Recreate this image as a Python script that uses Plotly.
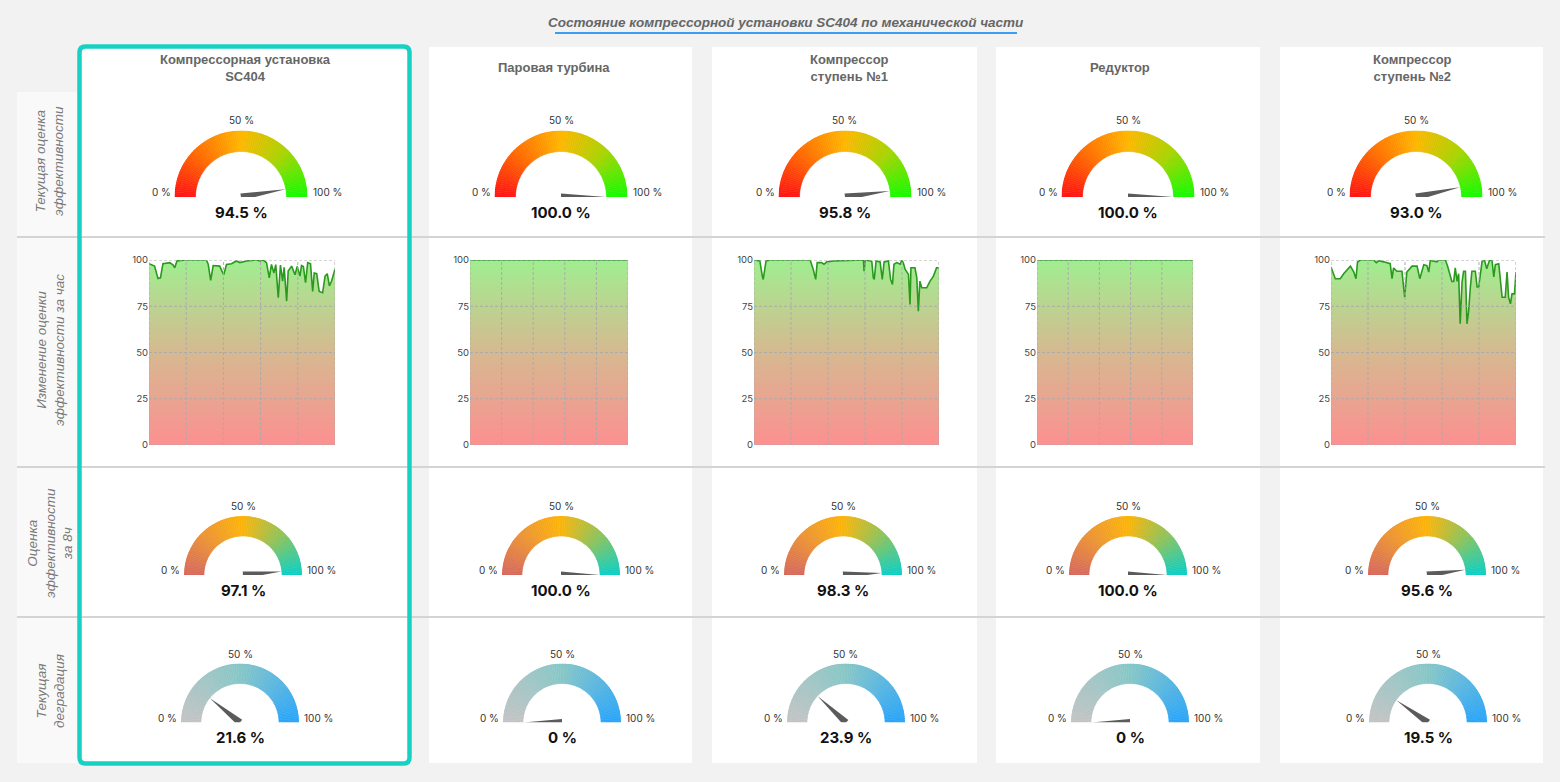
import plotly.graph_objects as go

W, H = 1560, 782

# ---------------- data ----------------
title_text = "Состояние компрессорной установки SC404 по механической части"
units = ["Компрессорная установка<br>SC404", "Паровая турбина",
         "Компрессор<br>ступень №1", "Редуктор", "Компрессор<br>ступень №2"]
row_labels = ["Текущая оценка<br>эффективности",
              "Изменение оценки<br>эффективности за час",
              "Оценка<br>эффективности<br>за 8ч",
              "Текущая<br>деградация"]

current_eff = [94.5, 100.0, 95.8, 100.0, 93.0]
eff_8h = [97.1, 100.0, 98.3, 100.0, 95.6]
degradation = [21.6, 0.0, 23.9, 0.0, 19.5]
gauge_tick_labels = ["0 %", "50 %", "100 %"]

y_ticks = [0, 25, 50, 75, 100]
x_grid = [0, 12, 24, 36, 48, 60]

# hourly efficiency (minutes, %)
t_unit = [0.0, 1.8, 2.9, 3.7, 4.5, 6.7, 7.8, 8.3, 9.0, 11.8, 18.5, 19.1, 19.9, 20.7, 22.8, 24.1,
          25.0, 26.6, 28.2, 29.3, 31.5, 34.7, 35.8, 36.8, 37.9, 38.8, 39.5, 40.3, 40.9, 41.7,
          42.4, 43.1, 43.6, 44.4, 44.9, 46.0, 47.1, 47.8, 48.7, 49.2, 49.8, 50.5, 51.2, 52.1,
          52.8, 53.3, 54.1, 54.9, 56.0, 56.8, 57.5, 58.2, 58.9, 60.0]
v_unit = [98, 96.7, 90, 90.4, 98, 98.6, 97.3, 95.8, 99.5, 100, 100, 97.7, 89, 97, 96.7, 92,
          97.6, 98, 99.5, 98.6, 99.5, 100, 99.5, 100, 98.6, 90.4, 97.6, 93, 97.5, 79.6,
          97.3, 88.6, 96, 77.8, 94, 96.7, 92, 96.5, 91.3, 97, 96.5, 87.7, 98.6, 98,
          83, 93, 92.6, 83, 82.3, 91.3, 92.6, 86, 88.6, 95]

t_turbine = [0, 60]
v_turbine = [100, 100]

t_comp1 = [0, 1.9, 2.7, 3.0, 3.9, 5.2, 18.2, 19.2, 20.0, 20.5, 21.9, 22.7, 23.6, 25.7, 35.5,
           35.7, 36.1, 38.2, 38.7, 39.0, 39.6, 40.9, 41.6, 42.2, 43.6, 44.3, 44.9, 45.4, 46.3,
           47.4, 47.9, 48.4, 49.0, 50.1, 50.6, 50.9, 52.2, 52.8, 53.3, 53.8, 54.4, 56.0, 57.1,
           58.2, 59.2, 60]
v_comp1 = [100, 99.5, 91.3, 89.5, 99.5, 100, 100, 95, 89.5, 98.6, 98.6, 97.7, 99, 99.5, 100,
           94, 100, 99.3, 90.4, 89.5, 99.5, 99, 89.5, 99, 99.5, 89.5, 86.8, 97.7, 98.6,
           97.7, 99.8, 98.6, 95, 92.2, 76, 95.8, 95.8, 90.4, 72.3, 88.6, 85, 85, 88.6,
           91.3, 95.8, 95.8]

t_gear = [0, 60]
v_gear = [100, 100]

t_comp2 = [0, 1.4, 3.0, 4.1, 6.3, 7.4, 8.1, 8.6, 9.5, 13.8, 14.7, 15.5, 17.1, 18.2, 19.2, 19.8,
           20.3, 21.4, 23.0, 23.9, 24.6, 26.3, 27.9, 28.8, 29.5, 30.1, 31.1, 31.7, 32.2, 34.4,
           34.9, 37.1, 37.8, 39.2, 39.8, 40.3, 40.9, 41.4, 41.9, 42.5, 43.0, 43.6, 44.1, 44.6,
           45.2, 45.7, 46.8, 47.4, 47.9, 48.4, 49.0, 49.8, 50.5, 51.4, 52.2, 52.8, 53.3, 54.4,
           54.9, 55.5, 56.5, 57.1, 57.6, 58.2, 58.7, 59.5, 60]
v_comp2 = [96.2, 89.9, 89.9, 92.6, 96.7, 93.5, 89.9, 98.9, 100, 100, 98.6, 99.6, 99, 98.6, 98,
           89.9, 95.7, 93.9, 93.9, 79.9, 93.5, 96.7, 96.7, 89.9, 94.4, 97.5, 97, 93.5, 99.8, 99,
           100, 100, 96.7, 88.4, 88.4, 95.7, 88.4, 92.6, 65.5, 88, 93.9, 93.9, 65.5, 71.8,
           85.4, 93.9, 93.9, 85.4, 85.4, 90.8, 99.3, 99.8, 95.3, 99.8, 100, 90.8, 97.5, 98,
           89.9, 79.9, 79.9, 93.5, 79.9, 76.3, 81.7, 81.7, 93.5]

hourly_t = [t_unit, t_turbine, t_comp1, t_gear, t_comp2]
hourly_v = [v_unit, v_turbine, v_comp1, v_gear, v_comp2]

# ---------------- style / layout ----------------
BG = "#f1f2f1"
GAUGE_FONT = "Inter"
TEXT_FONT = "Liberation Sans"
GRID = "#ababab"

stops_eff = [(0, "#ff1414"), (0.25, "#ff6a00"), (0.5, "#ffb700"), (0.75, "#a6d400"), (1, "#16fb00")]
stops_8h = [(0, "#d5695f"), (0.25, "#ec9335"), (0.5, "#fdb50a"), (0.75, "#8cc35c"), (1, "#0ccfc6")]
stops_deg = [(0, "#c4c4c4"), (0.5, "#88c7c7"), (1, "#2aa5fa")]

gauge_rows = [
    dict(values=current_eff, stops=stops_eff, cy=197, R=66.5, thick=21,
         cx=[241, 561, 845, 1128, 1416]),
    dict(values=eff_8h, stops=stops_8h, cy=575, R=59, thick=20,
         cx=[243, 561, 843, 1128, 1427]),
    dict(values=degradation, stops=stops_deg, cy=722.5, R=59, thick=20,
         cx=[240, 562, 846, 1130, 1428]),
]

chart_x = [(149, 335), (470, 628), (754, 939), (1037, 1193), (1331, 1516)]
chart_y = (260, 445)

header_x = [245, 554, 850, 1120, 1412]
row_label_y = [161, 350, 543, 691]


def px(x):
    return x / W


def py(y):
    return 1 - y / H


def hex2rgb(h):
    h = h.lstrip("#")
    return tuple(int(h[i:i + 2], 16) for i in (0, 2, 4))


def interp(stops, f):
    for (a, ca), (b, cb) in zip(stops[:-1], stops[1:]):
        if a <= f <= b:
            u = (f - a) / (b - a) if b > a else 0
            c1, c2 = hex2rgb(ca), hex2rgb(cb)
            return "rgb(%d,%d,%d)" % tuple(round(c1[i] + (c2[i] - c1[i]) * u) for i in range(3))
    return stops[-1][1]


def fmt(v):
    return "0 %" if v == 0 else f"{v:.1f} %"


fig = go.Figure()
shapes = []
annotations = []

# background pieces
shapes.append(dict(type="rect", xref="paper", yref="paper", x0=px(17), x1=px(78), y0=py(763), y1=py(92),
                   fillcolor="#f9f9f9", line=dict(width=0), layer="below"))
for (a, b) in [(429, 692), (712, 977), (996, 1260), (1280, 1543)]:
    shapes.append(dict(type="rect", xref="paper", yref="paper", x0=px(a), x1=px(b), y0=py(763), y1=py(47),
                       fillcolor="white", line=dict(width=0), layer="below"))
shapes.append(dict(type="rect", xref="paper", yref="paper", x0=px(80), x1=px(409), y0=py(763), y1=py(47),
                   fillcolor="white", line=dict(width=0), layer="below"))
for y in [237, 467, 617]:
    shapes.append(dict(type="line", xref="paper", yref="paper", x0=px(17), x1=px(1545), y0=py(y), y1=py(y),
                       line=dict(color="#d4d4d4", width=2), layer="below"))
x0, x1, y0, y1, r = 79.5, 409.5, 46.5, 763.5, 6


def P(x, y):
    return f"{px(x):.6f},{py(y):.6f}"


path = (f"M {P(x0 + r, y0)} L {P(x1 - r, y0)} Q {P(x1, y0)} {P(x1, y0 + r)} "
        f"L {P(x1, y1 - r)} Q {P(x1, y1)} {P(x1 - r, y1)} L {P(x0 + r, y1)} "
        f"Q {P(x0, y1)} {P(x0, y1 - r)} L {P(x0, y0 + r)} Q {P(x0, y0)} {P(x0 + r, y0)} Z")
shapes.append(dict(type="path", xref="paper", yref="paper", path=path,
                   line=dict(color="#17d1c3", width=4.5), layer="below"))
shapes.append(dict(type="line", xref="paper", yref="paper", x0=px(555), x1=px(1017), y0=py(33), y1=py(33),
                   line=dict(color="#3a9ff2", width=2), layer="above"))

annotations.append(dict(x=px(786), y=py(22), xref="paper", yref="paper", showarrow=False,
                        text=f"<b><i>{title_text}</i></b>", xanchor="center", yanchor="middle",
                        font=dict(family=TEXT_FONT, size=13.5, color="#666666")))

for name, hx in zip(units, header_x):
    annotations.append(dict(x=px(hx), y=py(68), xref="paper", yref="paper", showarrow=False,
                            text=f"<b>{name}</b>", xanchor="center", yanchor="middle",
                            font=dict(family=TEXT_FONT, size=13, color="#666666")))

for lab, ly in zip(row_labels, row_label_y):
    annotations.append(dict(x=px(50), y=py(ly), xref="paper", yref="paper", showarrow=False,
                            text=f"<i>{lab}</i>", textangle=-90, xanchor="center", yanchor="middle",
                            font=dict(family=TEXT_FONT, size=13.5, color="#7a7a7a")))

# ---------------- gauges ----------------
N = 90
seg_w = 180 / N
k = 0
for row in gauge_rows:
    R, thick, cy = row["R"], row["thick"], row["cy"]
    inner = (R - thick) / R
    for cx, val in zip(row["cx"], row["values"]):
        k += 1
        pname = "polar" if k == 1 else f"polar{k}"
        fig.update_layout({pname: dict(
            domain=dict(x=[px(cx - R), px(cx + R)], y=[py(cy), py(cy - R)]),
            sector=[0, 180], bgcolor="rgba(0,0,0,0)", hole=0,
            radialaxis=dict(visible=False, range=[0, 1]),
            angularaxis=dict(visible=False, rotation=180, direction="clockwise", thetaunit="degrees"),
        )})
        thetas = [seg_w * (i + 0.5) for i in range(N)]
        cols = [interp(row["stops"], th / 180) for th in thetas]
        fig.add_trace(go.Barpolar(theta=thetas, r=[1 - inner] * N, base=[inner] * N, width=[seg_w] * N,
                                  marker=dict(color=cols, line=dict(color=cols, width=0.6)),
                                  subplot=pname, hoverinfo="skip", showlegend=False))
        th = val * 1.8
        w = 3.5 / R
        L = inner * 0.99
        fig.add_trace(go.Scatterpolar(r=[w, L, w, w], theta=[th - 90, th, th + 90, th - 90],
                                      mode="lines", fill="toself", fillcolor="#5b5b5b",
                                      line=dict(width=0, color="#5b5b5b"),
                                      subplot=pname, hoverinfo="skip", showlegend=False))
        annotations.append(dict(x=px(cx), y=py(cy - R - 10), xref="paper", yref="paper", showarrow=False,
                                text=gauge_tick_labels[1], xanchor="center", yanchor="middle",
                                font=dict(family=GAUGE_FONT, size=10, color="#333333")))
        annotations.append(dict(x=px(cx - R - 2), y=py(cy - 5), xref="paper", yref="paper", showarrow=False,
                                text=gauge_tick_labels[0], xanchor="right", yanchor="middle",
                                font=dict(family=GAUGE_FONT, size=10, color="#333333")))
        annotations.append(dict(x=px(cx + R + 3), y=py(cy - 5), xref="paper", yref="paper", showarrow=False,
                                text=gauge_tick_labels[2], xanchor="left", yanchor="middle",
                                font=dict(family=GAUGE_FONT, size=10, color="#333333")))
        annotations.append(dict(x=px(cx), y=py(cy + 15), xref="paper", yref="paper", showarrow=False,
                                text=f"<b>{fmt(val)}</b>", xanchor="center", yanchor="middle",
                                font=dict(family=GAUGE_FONT, size=15, color="#111111")))

# ---------------- hourly charts ----------------
grad = dict(type="vertical", start=0, stop=100,
            colorscale=[[0, "#fc9090"], [0.5, "#d6b990"], [1, "#a0ee90"]])
for i, ((a, b), t, v) in enumerate(zip(chart_x, hourly_t, hourly_v), start=1):
    xa = "x" if i == 1 else f"x{i}"
    ya = "y" if i == 1 else f"y{i}"
    fig.add_trace(go.Scatter(x=t, y=v, xaxis=xa, yaxis=ya, mode="lines", fill="tozeroy",
                             fillgradient=grad, line=dict(color="#2a9a1e", width=1.6),
                             hoverinfo="skip", showlegend=False))
    axis_common = dict(showgrid=False, zeroline=False, showline=False, fixedrange=True, automargin=False)
    fig.update_layout({
        ("xaxis" if i == 1 else f"xaxis{i}"): dict(
            domain=[px(a), px(b)], anchor=ya, range=[0, 60],
            showticklabels=False, **axis_common),
        ("yaxis" if i == 1 else f"yaxis{i}"): dict(
            domain=[py(chart_y[1]), py(chart_y[0])], anchor=xa, range=[0, 100],
            tickvals=y_ticks, ticks="", tickfont=dict(family=GAUGE_FONT, size=9.5, color="#444444"),
            **axis_common),
    })
    # dashed grid drawn over the gradient fill (as in the reference)
    for gx in x_grid:
        shapes.append(dict(type="line", xref=xa, yref=f"{ya} domain", x0=gx, x1=gx, y0=0, y1=1,
                           line=dict(color=GRID, width=1, dash="3px,2px"), layer="above"))
    for gy in y_ticks:
        shapes.append(dict(type="line", xref=f"{xa} domain", yref=ya, x0=0, x1=1, y0=gy, y1=gy,
                           line=dict(color=GRID, width=1, dash="3px,2px"), layer="above"))

fig.update_layout(
    width=W, height=H, margin=dict(l=0, r=0, t=0, b=0, pad=0, autoexpand=False),
    paper_bgcolor=BG, plot_bgcolor="rgba(0,0,0,0)",
    shapes=shapes, annotations=annotations, showlegend=False,
)

fig.write_html("out.html")
